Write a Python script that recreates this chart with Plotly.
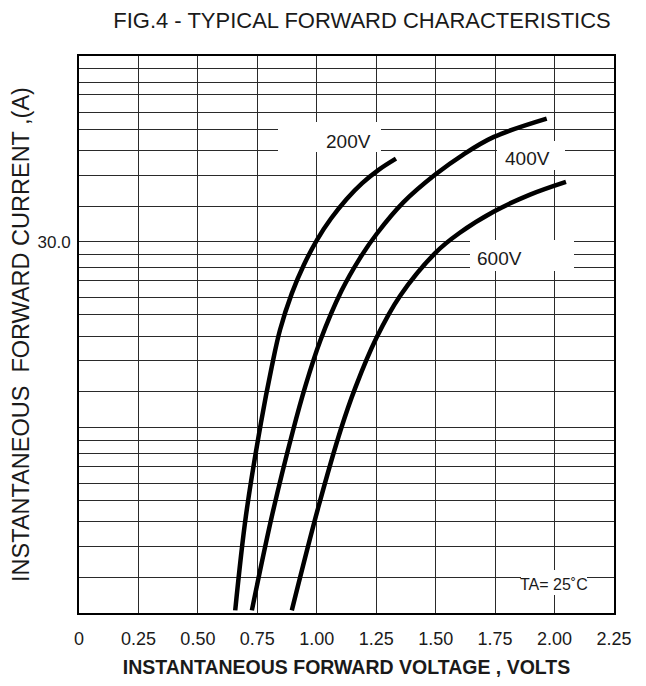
import math
import plotly.graph_objects as go

# ---- data (volts, amps) ----
V200_X = [0.657, 0.702, 0.765, 0.810, 0.845, 0.895, 0.945, 1.003, 1.060, 1.125, 1.190, 1.260, 1.333]
V200_Y = [0.31, 1.0, 3.16, 6.3, 10.0, 15.8, 22.4, 31.0, 40.0, 50.8, 61.8, 73.1, 84.0]

V400_X = [0.727, 0.813, 0.899, 0.952, 1.015, 1.104, 1.181, 1.254, 1.364, 1.497, 1.616, 1.745, 1.967]
V400_Y = [0.31, 1.02, 2.85, 5.0, 8.8, 16.3, 24.4, 33.3, 48.8, 68.7, 88.4, 110.0, 138.0]

V600_X = [0.895, 1.007, 1.101, 1.163, 1.251, 1.350, 1.500, 1.600, 1.745, 1.897, 2.048]
V600_Y = [0.31, 1.12, 2.92, 4.94, 9.1, 15.3, 26.2, 33.4, 43.6, 53.8, 63.0]

SERIES_NAMES = ["200V", "400V", "600V"]

X_TICKS = [0, 0.25, 0.50, 0.75, 1.00, 1.25, 1.50, 1.75, 2.00, 2.25]
X_TICK_TEXT = ["0", "0.25", "0.50", "0.75", "1.00", "1.25", "1.50", "1.75", "2.00", "2.25"]

Y_DECADES = [0.3, 3.0, 30.0, 300.0]
GRID_MULT = [1.556, 2.28, 3.10, 4.04, 4.99, 6.17, 7.22, 8.53]
Y_LABELED = {30.0: "30.0"}

# ---- build grid tick values ----
y_grid = []
for i, base in enumerate(Y_DECADES):
    y_grid.append(base)
    if i < len(Y_DECADES) - 1:
        for m in GRID_MULT:
            y_grid.append(base * m)
y_text = [Y_LABELED.get(v, "") for v in y_grid]

FONT = "Liberation Sans, Arial, sans-serif"
TXT = "#1a1a1a"

# page offset of the figure inside the browser window (default body margin)
OFF = 8
FIG_W, FIG_H = 646 - 2 * OFF, 686 - 2 * OFF

fig = go.Figure()
for name, xs, ys in zip(SERIES_NAMES, [V200_X, V400_X, V600_X], [V200_Y, V400_Y, V600_Y]):
    fig.add_trace(go.Scatter(
        x=xs, y=ys, mode="lines", name=name,
        line=dict(color="black", width=4.5, shape="spline", smoothing=1.0),
        showlegend=False,
    ))

# plot area in window pixels: x 79..614, y 56..613
L, R, T, B = 79, 614, 56, 613
W, H = R - L, B - T


def px(x):
    return (x - L) / W


def py(y):
    return (B - y) / H


# white boxes that break the grid behind the in-plot labels
boxes = [
    (278, 381, 122, 152),
    (497, 565, 141, 170),
    (470, 574, 240, 271),
    (521, 587, 570, 595),
]
for x0, x1, y0, y1 in boxes:
    fig.add_shape(type="rect", xref="paper", yref="paper",
                  x0=px(x0), x1=px(x1), y0=py(y1), y1=py(y0),
                  fillcolor="white", line=dict(width=0), layer="above")

labels = [
    ("200V", 349, 141, 19),
    ("400V", 527, 158, 19),
    ("600V", 499, 259, 19),
    ("TA= 25˚C", 554, 584, 16),
]
for text, x, y, size in labels:
    fig.add_annotation(text=text, xref="paper", yref="paper", x=px(x), y=py(y),
                       xanchor="center", yanchor="middle", showarrow=False,
                       font=dict(family=FONT, size=size, color=TXT))

fig.update_xaxes(
    range=[0, 2.25], tickmode="array", tickvals=X_TICKS, ticktext=X_TICK_TEXT,
    showgrid=True, gridcolor="#2a2a2a", gridwidth=1,
    showline=True, mirror=True, linecolor="black", linewidth=2,
    zeroline=False, ticks="", ticklabelstandoff=8, automargin=False,
    tickfont=dict(family=FONT, size=18, color=TXT),
    title=dict(text="<b>INSTANTANEOUS FORWARD VOLTAGE , VOLTS</b>",
               font=dict(family=FONT, size=19.5, color=TXT), standoff=14),
)
fig.update_yaxes(
    type="log", range=[math.log10(0.3), math.log10(300)],
    tickmode="array", tickvals=y_grid, ticktext=y_text,
    showgrid=True, gridcolor="#2a2a2a", gridwidth=1,
    showline=True, mirror=True, linecolor="black", linewidth=2,
    zeroline=False, ticks="", ticklabelstandoff=3, automargin=False,
    tickfont=dict(family=FONT, size=17, color=TXT),
    title=dict(text="INSTANTANEOUS  FORWARD CURRENT ,(A)",
               font=dict(family=FONT, size=23.5, color=TXT), standoff=1),
)

fig.update_layout(
    template="none",
    width=FIG_W, height=FIG_H,
    margin=dict(l=L - OFF, r=FIG_W - (R - OFF), t=T - OFF, b=FIG_H - (B - OFF), pad=0),
    paper_bgcolor="white", plot_bgcolor="white",
    title=dict(text="FIG.4 - TYPICAL FORWARD CHARACTERISTICS",
               font=dict(family=FONT, size=22, color=TXT),
               x=(362 - OFF) / FIG_W, xref="container", xanchor="center",
               y=1 - (20.5 - OFF) / FIG_H, yref="container", yanchor="middle"),
    showlegend=False,
)

fig.write_html("out.html")
